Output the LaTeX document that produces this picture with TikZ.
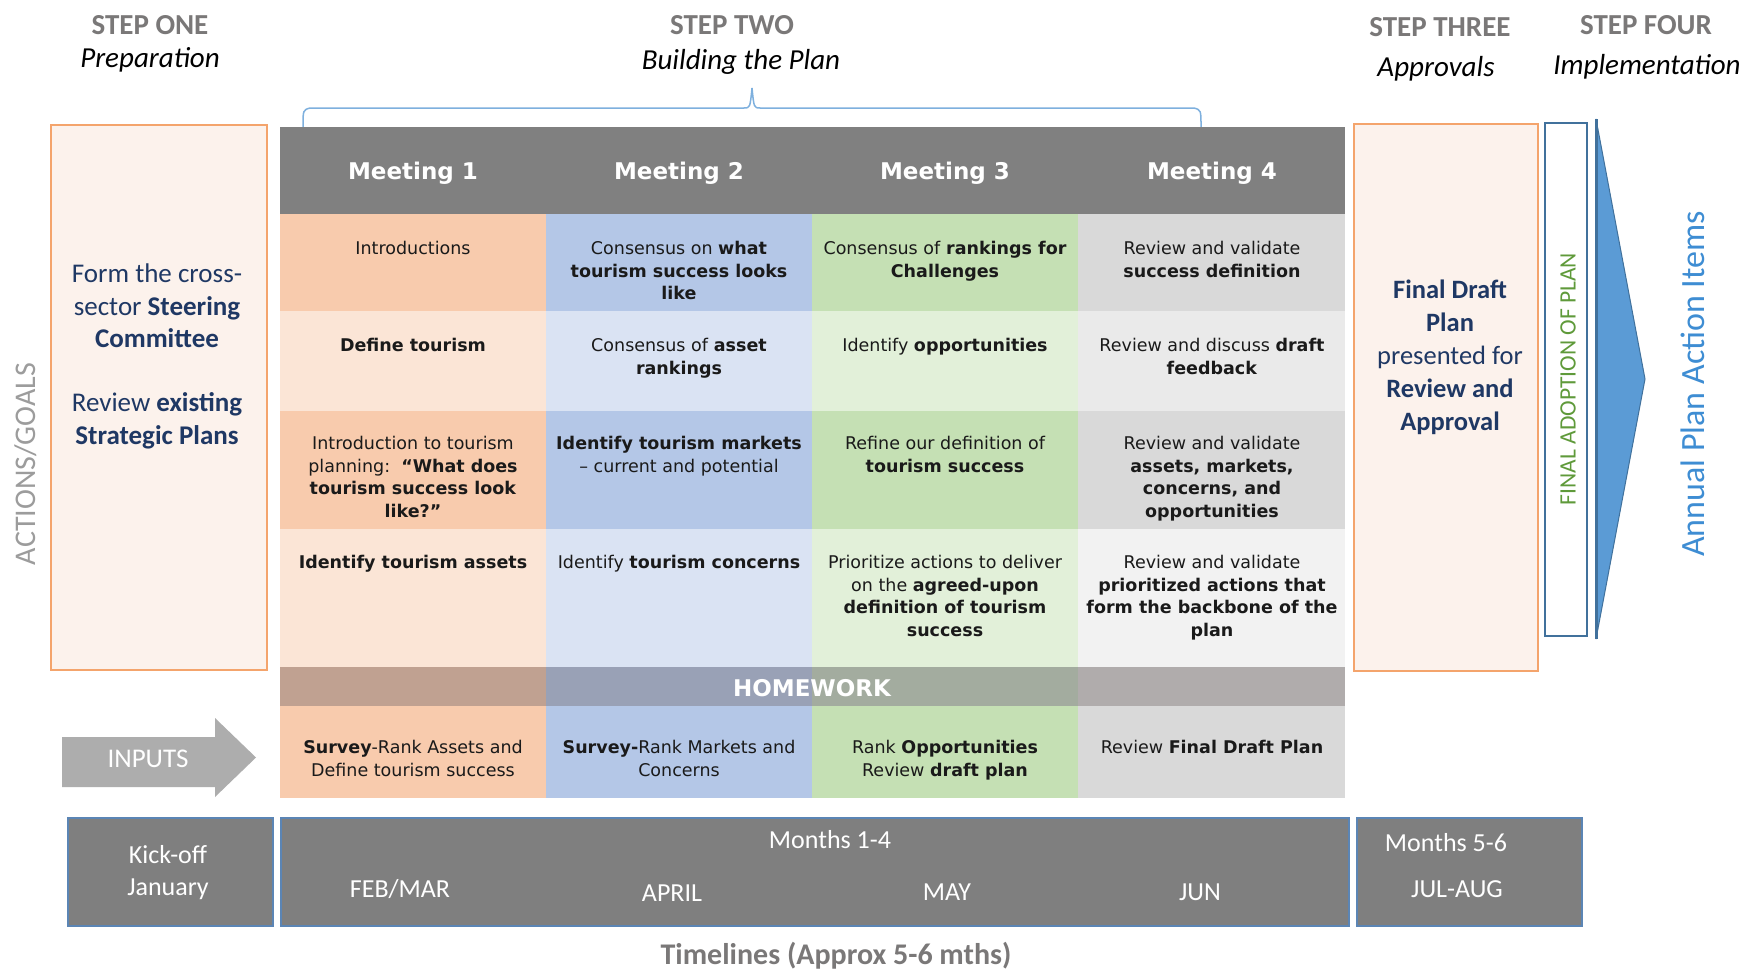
\documentclass[tikz,border=0pt]{standalone}
\usepackage{fontspec}
\setmainfont{Carlito}
\newfontfamily\verd{DejaVu Sans}
\definecolor{hdr}{HTML}{808080}
\definecolor{oD}{HTML}{F8CBAD}\definecolor{oL}{HTML}{FBE5D6}
\definecolor{bD}{HTML}{B4C7E7}\definecolor{bL}{HTML}{DAE3F3}
\definecolor{gD}{HTML}{C5E0B4}\definecolor{gL}{HTML}{E2F0D9}
\definecolor{yD}{HTML}{D9D9D9}\definecolor{yL}{HTML}{EAEAEA}\definecolor{yLL}{HTML}{F2F2F2}
\definecolor{hwA}{HTML}{C0A191}\definecolor{hwB}{HTML}{99A1B6}
\definecolor{hwC}{HTML}{A3AC9F}\definecolor{hwD}{HTML}{B0ACAC}
\definecolor{stepgray}{HTML}{7A7878}
\definecolor{navy}{HTML}{1F3864}
\definecolor{orB}{HTML}{F4A46C}\definecolor{orF}{HTML}{FCF2EC}
\definecolor{tlF}{HTML}{7F7F7F}\definecolor{tlB}{HTML}{5B85B5}
\definecolor{arrG}{HTML}{ADADAD}
\definecolor{chevF}{HTML}{5B9BD5}\definecolor{chevL}{HTML}{41719C}
\definecolor{annual}{HTML}{3E8DD3}
\definecolor{adoptG}{HTML}{5F9A3A}
\definecolor{braceC}{HTML}{7EB0DE}
\definecolor{actG}{HTML}{9C9C9C}
\definecolor{celltext}{HTML}{1A1A1A}
\begin{document}
\begin{tikzpicture}[x=1pt,y=-1pt,
  stephead/.style={font=\fontsize{29}{34}\selectfont\bfseries, text=stepgray, inner sep=0},
  stepsub/.style={font=\fontsize{29}{34}\selectfont\itshape, text=black, inner sep=0},
  cell/.style={font=\verd\fontsize{17.5}{22.5}\selectfont, align=center, anchor=north, inner sep=0, text=celltext},
  meet/.style={font=\verd\bfseries\fontsize{23}{28}\selectfont, text=white, inner sep=0},
  sidetext/.style={font=\fontsize{27}{32.5}\selectfont, text=navy, align=center, inner sep=0},
  tltext/.style={font=\fontsize{26}{30}\selectfont, text=white, inner sep=0},
  tlbox/.style={fill=tlF, draw=tlB, line width=2},
  orbox/.style={fill=orF, draw=orB, line width=2.5}]
\useasboundingbox (0,0) rectangle (1750,969);
\fill[white] (0,0) rectangle (1750,969);

% step headings
\node[stephead, anchor=base] (s1) at (150,34) {STEP ONE};
\node[stepsub, anchor=base] (s1b) at (150,67) {Preparation};
\node[stephead, anchor=base] (s2) at (732,34) {STEP TWO};
\node[stepsub, anchor=base] (s2b) at (741,69) {Building the Plan};
\node[stephead, anchor=base] (s3) at (1440,36) {STEP THREE};
\node[stepsub, anchor=base] (s3b) at (1436,76) {Approvals};
\node[stephead, anchor=base] (s4) at (1646,34) {STEP FOUR};
\node[stepsub, anchor=base] (s4b) at (1647,74) {Implementation};

% brace
\draw[braceC, line width=1.5] (303,127) .. controls (303,110) .. (310,108) -- (744,108)
  .. controls (750,108) .. (752,88) .. controls (754,108) .. (760,108) -- (1194,108)
  .. controls (1201,110) .. (1201,127);

% ACTIONS/GOALS
\node[font=\fontsize{30}{34}\selectfont, text=actG, rotate=90, inner sep=0] (act) at (26,464) {ACTIONS/GOALS};

% left box
\draw[orbox] (51,125) rectangle (267,670);
\node[sidetext] (lt1) at (157,306) {Form the cross-\\sector \textbf{Steering}\\\textbf{Committee}};
\node[sidetext] (lt2) at (157,421) {Review \textbf{existing}\\\textbf{Strategic Plans}};

% table header
\fill[hdr] (280,127) rectangle (1345,214);
\node[meet] (m1) at (413,173) {Meeting 1};
\node[meet] (m2) at (679,173) {Meeting 2};
\node[meet] (m3) at (945,173) {Meeting 3};
\node[meet] (m4) at (1212,173) {Meeting 4};

% column fills
\fill[oD] (280,214) rectangle (546,311); \fill[bD] (546,214) rectangle (812,311);
\fill[gD] (812,214) rectangle (1078,311); \fill[yD] (1078,214) rectangle (1345,311);
\fill[oL] (280,311) rectangle (546,411); \fill[bL] (546,311) rectangle (812,411);
\fill[gL] (812,311) rectangle (1078,411); \fill[yL] (1078,311) rectangle (1345,411);
\fill[oD] (280,411) rectangle (546,529); \fill[bD] (546,411) rectangle (812,529);
\fill[gD] (812,411) rectangle (1078,529); \fill[yD] (1078,411) rectangle (1345,529);
\fill[oL] (280,529) rectangle (546,667); \fill[bL] (546,529) rectangle (812,667);
\fill[gL] (812,529) rectangle (1078,667); \fill[yLL] (1078,529) rectangle (1345,667);
\fill[hwA] (280,667) rectangle (546,706); \fill[hwB] (546,667) rectangle (812,706);
\fill[hwC] (812,667) rectangle (1078,706); \fill[hwD] (1078,667) rectangle (1345,706);
\fill[oD] (280,706) rectangle (546,798); \fill[bD] (546,706) rectangle (812,798);
\fill[gD] (812,706) rectangle (1078,798); \fill[yD] (1078,706) rectangle (1345,798);

% row 1
\node[cell] (c11) at (413,241) {Introductions};
\node[cell] (c12) at (679,241) {Consensus on \textbf{what}\\\textbf{tourism success looks}\\\textbf{like}};
\node[cell] (c13) at (945,241) {Consensus of \textbf{rankings for}\\\textbf{Challenges}};
\node[cell] (c14) at (1212,241) {Review and validate\\\textbf{success definition}};
% row 2
\node[cell] (c21) at (413,338) {\textbf{Define tourism}};
\node[cell] (c22) at (679,338) {Consensus of \textbf{asset}\\\textbf{rankings}};
\node[cell] (c23) at (945,338) {Identify \textbf{opportunities}};
\node[cell] (c24) at (1212,338) {Review and discuss \textbf{draft}\\\textbf{feedback}};
% row 3
\node[cell] (c31) at (413,436) {Introduction to tourism\\planning:~~\textbf{“What does}\\\textbf{tourism success look}\\\textbf{like?”}};
\node[cell] (c32) at (679,436) {\textbf{Identify tourism markets}\\– current and potential};
\node[cell] (c33) at (945,436) {Refine our definition of\\\textbf{tourism success}};
\node[cell] (c34) at (1212,436) {Review and validate\\\textbf{assets, markets,}\\\textbf{concerns, and}\\\textbf{opportunities}};
% row 4
\node[cell] (c41) at (413,555) {\textbf{Identify tourism assets}};
\node[cell] (c42) at (679,555) {Identify \textbf{tourism concerns}};
\node[cell] (c43) at (945,555) {Prioritize actions to deliver\\on the \textbf{agreed-upon}\\\textbf{definition of tourism}\\\textbf{success}};
\node[cell] (c44) at (1212,555) {Review and validate\\\textbf{prioritized actions that}\\\textbf{form the backbone of the}\\\textbf{plan}};
% homework
\node[meet] (hw) at (812,688) {HOMEWORK};
% inputs row
\node[cell] (c51) at (413,740) {\textbf{Survey}-Rank Assets and\\Define tourism success};
\node[cell] (c52) at (679,740) {\textbf{Survey-}Rank Markets and\\Concerns};
\node[cell] (c53) at (945,740) {Rank \textbf{Opportunities}\\Review \textbf{draft plan}};
\node[cell] (c54) at (1212,740) {Review \textbf{Final Draft Plan}};

% INPUTS arrow
\fill[arrG] (62,737) -- (215,737) -- (215,718) -- (256,757.5) -- (215,797) -- (215,787) -- (62,787) -- cycle;
\node[font=\fontsize{27}{30}\selectfont, text=white, inner sep=0] (inp) at (148,759) {INPUTS};

% right box
\draw[orbox] (1354,124) rectangle (1538,671);
\node[sidetext, font=\fontsize{26.5}{33}\selectfont] (rt) at (1450,357) {\textbf{Final Draft}\\\textbf{Plan}\\presented for\\\textbf{Review and}\\\textbf{Approval}};

% final adoption box
\draw[draw=chevL, fill=white, line width=2] (1545,123) rectangle (1587,636);
\node[font=\fontsize{23.5}{27}\selectfont, text=adoptG, rotate=90, inner sep=0] (adopt) at (1568,379) {FINAL ADOPTION OF PLAN};

% chevron
\draw[fill=chevF, draw=chevL, line width=1] (1596,119) -- (1645,379) -- (1596,639) -- cycle;
\draw[chevL, line width=3] (1596,119) -- (1596,639);
\node[font=\fontsize{34}{38}\selectfont, text=annual, rotate=90, inner sep=0] (ann) at (1693,384) {Annual Plan Action Items};

% timeline
\draw[tlbox] (68,818) rectangle (273,926);
\draw[tlbox] (281,818) rectangle (1349,926);
\draw[tlbox] (1357,818) rectangle (1582,926);
\node[tltext] (k1) at (168,855) {Kick-off};
\node[tltext] (k2) at (168,889) {January};
\node[tltext] (mo14) at (830,840) {Months 1-4};
\node[tltext] (feb) at (400,889) {FEB/MAR};
\node[tltext] (apr) at (672,893) {APRIL};
\node[tltext] (may) at (947,892) {MAY};
\node[tltext] (jun) at (1200,892) {JUN};
\node[tltext] (mo56) at (1446,843) {Months 5-6};
\node[tltext] (jul) at (1457,889) {JUL-AUG};
\node[font=\fontsize{30}{34}\selectfont\bfseries, text=stepgray, inner sep=0] (tl) at (836,956) {Timelines (Approx 5-6 mths)};
\end{tikzpicture}
\end{document}
